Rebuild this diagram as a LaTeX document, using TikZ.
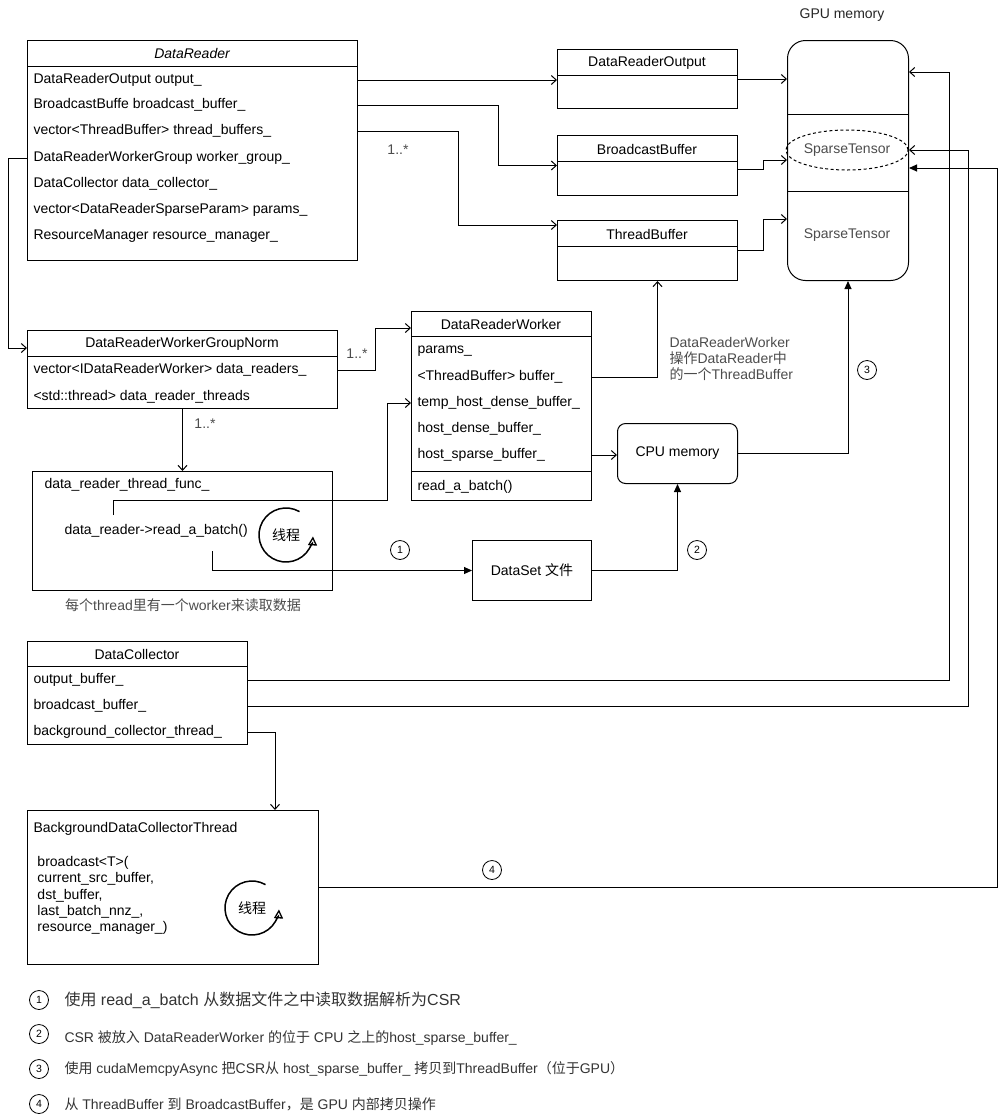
\documentclass[tikz,border=0pt]{standalone}
\usepackage{fontspec}
\setmainfont{Liberation Sans}
\newfontfamily\cjk{Noto Sans CJK SC}
\usetikzlibrary{arrows.meta,calc,shapes.geometric}
\newcommand\zh[1]{{\cjk #1}}
\newcommand\fs{\fontsize{14}{16}\selectfont}
\begin{document}
\begin{tikzpicture}[x=1pt,y=-1pt, line width=1pt,
 box/.style={draw, inner sep=0pt, anchor=north west, font=\fs},
 row/.style={anchor=west, inner sep=0pt, font=\fs},
 ttl/.style={inner sep=0pt, font=\fs},
 opena/.style={-{Straight Barb[length=5pt,width=9pt]}},
 blka/.style={-{Triangle[length=8pt,width=7pt]}},
 num/.style={circle, draw, line width=0.8pt, minimum size=19pt, inner sep=0pt, font=\fontsize{10.5}{10.5}\selectfont},
 note/.style={inner sep=0pt, font=\fs, text=black!70},
 spinarc/.style={line width=1.5pt, -{Triangle[open,length=9pt,width=9pt,line width=1.3pt]}},
]
\useasboundingbox (0,0) rectangle (1006,1120);

% ---------- DataReader ----------
\node[box, minimum width=330pt, minimum height=220pt] (dr) at (27,40) {};
\draw ([yshift=-26pt]dr.north west) -- ([yshift=-26pt]dr.north east);
\node[ttl, font=\fs\itshape] (drt) at (192,53) {DataReader};
\node[row] (dr1) at (33,80) {DataReaderOutput output\_};
\node[row] (dr2) at (33,105) {BroadcastBuffe broadcast\_buffer\_};
\node[row] (dr3) at (33,131) {vector<ThreadBuffer> thread\_buffers\_};
\node[row] (dr4) at (33,158) {DataReaderWorkerGroup worker\_group\_};
\node[row] (dr5) at (33,184) {DataCollector data\_collector\_};
\node[row] (dr6) at (33,210) {vector<DataReaderSparseParam> params\_};
\node[row] (dr7) at (33,236) {ResourceManager resource\_manager\_};

% ---------- output classes ----------
\node[box, minimum width=180pt, minimum height=59pt] (dro) at (557,49) {};
\draw ([yshift=-26pt]dro.north west) -- ([yshift=-26pt]dro.north east);
\node[ttl] (drot) at (647,63) {DataReaderOutput};
\node[box, minimum width=180pt, minimum height=60pt] (bb) at (557,135) {};
\draw ([yshift=-26pt]bb.north west) -- ([yshift=-26pt]bb.north east);
\node[ttl] (bbt) at (647,149) {BroadcastBuffer};
\node[box, minimum width=180pt, minimum height=60pt] (tb) at (557,220) {};
\draw ([yshift=-26pt]tb.north west) -- ([yshift=-26pt]tb.north east);
\node[ttl] (tbt) at (647,234) {ThreadBuffer};

\draw[opena] (dr.east |- dr1) -- (dro.west |- dr1);
\draw[opena] (dr.east |- dr2) -- ++(140,0) |- (bb.west);
\draw[opena] (dr.east |- dr3) -- ++(100,0) |- ([yshift=-5pt]tb.north west);
\node[note] (m1) at (398,150) {1..*};

% ---------- GPU memory ----------
\node[ttl, text=black!85] (gpul) at (842,15) {GPU memory};
\node[box, rounded corners=18pt, minimum width=121pt, minimum height=240pt] (gpu) at (787,40) {};
\draw ([yshift=-74pt]gpu.north west) -- ([yshift=-74pt]gpu.north east);
\draw ([yshift=-151pt]gpu.north west) -- ([yshift=-151pt]gpu.north east);
\node[draw, dashed, dash pattern=on 3pt off 2.5pt, ellipse, minimum width=120pt, minimum height=40pt, inner sep=0pt, font=\fs, text=black!70] (st1) at (847,150) {SparseTensor};
\node[ttl, text=black!70] (st2) at (847,235) {SparseTensor};

\draw[opena] (dro.east) -- (gpu.west |- dro.east);
\draw[opena] ([yshift=-4pt]bb.east) -- ++(25,0) |- ([yshift=-120pt]gpu.north west);
\draw[opena] (tb.east) -- ++(25,0) |- ([yshift=-179pt]gpu.north west);

% ---------- DataReaderWorkerGroupNorm ----------
\node[box, minimum width=310pt, minimum height=78pt] (dwg) at (27,330) {};
\draw ([yshift=-26pt]dwg.north west) -- ([yshift=-26pt]dwg.north east);
\node[ttl] (dwgt) at (182,344) {DataReaderWorkerGroupNorm};
\node[row] (dw1) at (33,370) {vector<IDataReaderWorker> data\_readers\_};
\node[row] (dw2) at (33,397) {<std::thread> data\_reader\_threads};

\draw[opena] (dr.west |- dr4) -- ++(-19,0) |- ([yshift=-18pt]dwg.north west);

% ---------- DataReaderWorker ----------
\node[box, minimum width=180pt, minimum height=189pt] (drw) at (411,311) {};
\draw ([yshift=-25pt]drw.north west) -- ([yshift=-25pt]drw.north east);
\draw ([yshift=-160pt]drw.north west) -- ([yshift=-160pt]drw.north east);
\node[ttl] (drwt) at (501,324) {DataReaderWorker};
\node[row] (wr1) at (417,351) {params\_};
\node[row] (wr2) at (417,377) {<ThreadBuffer> buffer\_};
\node[row] (wr3) at (417,403) {temp\_host\_dense\_buffer\_};
\node[row] (wr4) at (417,429) {host\_dense\_buffer\_};
\node[row] (wr5) at (417,455) {host\_sparse\_buffer\_};
\node[row] (wr6) at (417,487) {read\_a\_batch()};

\draw[opena] (dwg.east |- dw1) -- ++(37,0) |- ([yshift=-17pt]drw.north west);
\node[note] (m2) at (357,354) {1..*};

\draw[opena] (drw.east |- wr2) -| ([xshift=10pt]tb.south);
\node[note, anchor=north west, align=left, font=\fontsize{14}{16}\selectfont] (wnote) at (669,337) {DataReaderWorker\\\zh{操作}DataReader\zh{中}\\\zh{的一个}ThreadBuffer};

% ---------- CPU memory ----------
\node[box, rounded corners=8pt, minimum width=120pt, minimum height=60pt] (cpu) at (617,423) {CPU memory};
\draw[opena] (drw.east |- wr5) -- (cpu.west |- wr5);
\draw[blka] (cpu.east) -| (gpu.south);
\node[num] (n3) at (867,370) {3};

% ---------- thread func ----------
\node[box, minimum width=300pt, minimum height=119pt] (tf) at (32,471) {};
\node[row] (tft) at (44,485) {data\_reader\_thread\_func\_};
\node[row] (rab) at (64,531) {data\_reader->read\_a\_batch()};
\node[font=\fontsize{14}{16}\selectfont\cjk] (spin1) at (286,535) {线程};
\draw[spinarc] ([shift={(-60:27)}]spin1.center) arc[start angle=-60, end angle=-357, radius=27];
\draw[opena] (dwg.south) -- (tf.north);
\node[note] (m3) at (205,424) {1..*};

\coordinate (tfs) at (113,515);
\draw[opena] (tfs) -- ++(0,-15) -- ++(274,0) |- (drw.west |- wr3);
\coordinate (rabs) at (212,551);

% ---------- DataSet ----------
\node[box, minimum width=119pt, minimum height=60pt] (ds) at (472,540) {DataSet \zh{文件}};
\draw[blka] (rabs) |- (ds.west);
\node[num] (n1) at (400,550) {1};
\draw[blka] (ds.east) -| (cpu.south);
\node[num] (n2) at (697,550) {2};
\node[note] (cap) at (183,605) {\zh{每个}thread\zh{里有一个}worker\zh{来读取数据}};

% ---------- DataCollector ----------
\node[box, minimum width=220pt, minimum height=103pt] (dc) at (27,641) {};
\draw ([yshift=-25pt]dc.north west) -- ([yshift=-25pt]dc.north east);
\node[ttl] (dct) at (137,654) {DataCollector};
\node[row] (dc1) at (33,680) {output\_buffer\_};
\node[row] (dc2) at (33,706) {broadcast\_buffer\_};
\node[row] (dc3) at (33,732) {background\_collector\_thread\_};

% ---------- Background thread ----------
\node[box, minimum width=291pt, minimum height=154pt] (bg) at (27,810) {};
\node[row] (bgt) at (33,829) {BackgroundDataCollectorThread};
\node[anchor=north west, align=left, inner sep=0pt, font=\fontsize{14}{16.3}\selectfont] (bgb) at (37,856) {broadcast<T>(\\current\_src\_buffer,\\dst\_buffer,\\last\_batch\_nnz\_,\\resource\_manager\_)};
\node[font=\fontsize{14}{16}\selectfont\cjk] (spin2) at (252,908) {线程};
\draw[spinarc] ([shift={(-60:27)}]spin2.center) arc[start angle=-60, end angle=-357, radius=27];

\draw[opena] (dc.east |- dc3) -| ([xshift=-44pt]bg.north east);
\draw[opena] (dc.east |- dc1) -| ([xshift=40pt,yshift=-32pt]gpu.north east) -- ([yshift=-32pt]gpu.north east);
\draw[opena] (dc.east |- dc2) -| ([xshift=59pt,yshift=-110pt]gpu.north east) -- ([yshift=-110pt]gpu.north east);
\draw[blka] (bg.east) -| ([xshift=88pt,yshift=-128pt]gpu.north east) -- ([yshift=-128pt]gpu.north east);
\node[num] (n4) at (492,870) {4};

% ---------- legend ----------
\node[num] (l1) at (39,1000) {1};
\node[anchor=west, inner sep=0pt, font=\fontsize{16}{18}\selectfont, text=black!80] (lt1) at (64,1000) {\zh{使用} read\_a\_batch \zh{从数据文件之中读取数据解析为}CSR};
\node[num] (l2) at (39,1034) {2};
\node[anchor=west, inner sep=0pt, font=\fontsize{14}{16}\selectfont, text=black!80] (lt2) at (64,1038) {CSR \zh{被放入} DataReaderWorker \zh{的位于} CPU \zh{之上的}host\_sparse\_buffer\_};
\node[num] (l3) at (39,1069) {3};
\node[anchor=west, inner sep=0pt, font=\fontsize{14}{16}\selectfont, text=black!80] (lt3) at (64,1069) {\zh{使用} cudaMemcpyAsync \zh{把}CSR\zh{从} host\_sparse\_buffer\_ \zh{拷贝到}ThreadBuffer\zh{（位于}GPU\zh{）}};
\node[num] (l4) at (39,1104) {4};
\node[anchor=west, inner sep=0pt, font=\fontsize{14}{16}\selectfont, text=black!80] (lt4) at (64,1104) {\zh{从} ThreadBuffer \zh{到} BroadcastBuffer\zh{，是} GPU \zh{内部拷贝操作}};
\end{tikzpicture}
\end{document}
